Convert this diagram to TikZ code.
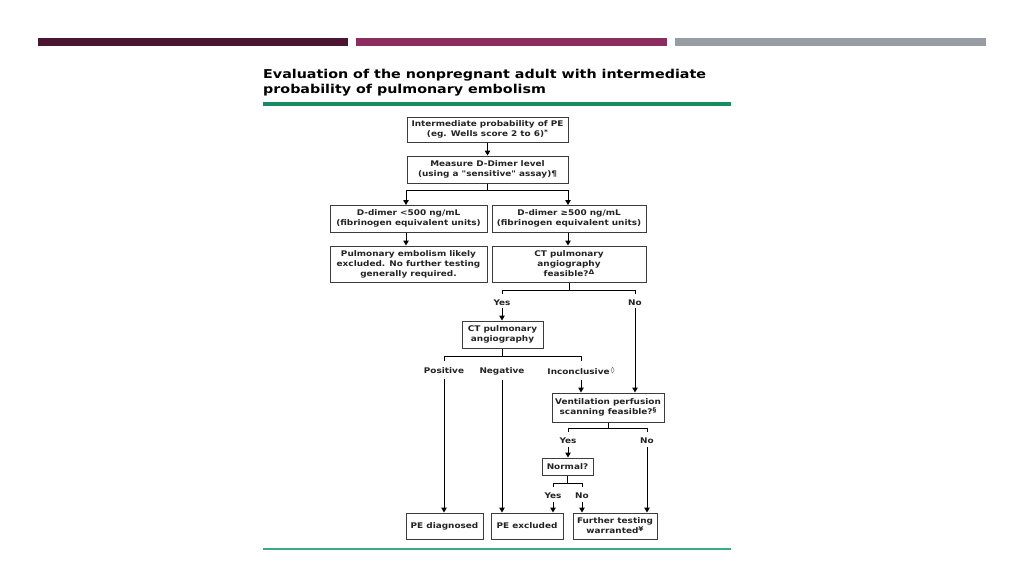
\documentclass[tikz,border=0pt]{standalone}
\usepackage{fontspec}
\setmainfont{DejaVu Sans}
\newfontfamily\titlefont[FakeStretch=1.17]{DejaVu Sans Bold}
\newfontfamily\boxfont[FakeStretch=1.14]{DejaVu Sans Bold}
\usetikzlibrary{arrows.meta,calc}
\definecolor{barA}{RGB}{75,22,50}
\definecolor{barB}{RGB}{140,45,95}
\definecolor{barC}{RGB}{152,157,163}
\definecolor{greenA}{RGB}{20,140,95}
\definecolor{greenB}{RGB}{60,170,130}
\definecolor{boxline}{RGB}{60,60,60}
\definecolor{txt}{RGB}{35,35,35}
\newcommand{\sups}[1]{\raisebox{0.5ex}{\fontsize{6.5}{6.5}\selectfont #1}}
\begin{document}
\begin{tikzpicture}[x=1pt,y=-1pt,
  every node/.style={text=txt},
  fbox/.style={draw=boxline,line width=1pt,rectangle,inner sep=0pt,align=center,
    font=\boxfont\fontsize{7.8}{10}\selectfont},
  lbl/.style={inner sep=0pt,font=\boxfont\fontsize{7.8}{10}\selectfont},
  conn/.style={draw=black,line width=1pt},
  arr/.style={conn,-{Triangle[length=5pt,width=5.5pt]}}]
\useasboundingbox (0,0) rectangle (1024,576);
\fill[white] (0,0) rectangle (1024,576);
% top bars
\fill[barA] (38,38) rectangle (348,46);
\fill[barB] (356,38) rectangle (667,46);
\fill[barC] (675,38) rectangle (986,46);
% title
\node[anchor=north west,inner sep=0pt,align=left,text=black,
  font=\titlefont\fontsize{12.2}{15.5}\selectfont] (title) at (263,69)
  {Evaluation of the nonpregnant adult with intermediate\\probability of pulmonary embolism};
\fill[greenA] (263,102) rectangle (731,106);
\fill[greenB] (263,548) rectangle (731,550);
% boxes
\node[fbox,minimum width=161pt,minimum height=25pt] (top) at (487.5,129.5)
  {Intermediate probability of PE\\(eg. Wells score 2 to 6)\sups{*}};
\node[fbox,minimum width=161pt,minimum height=27pt] (meas) at (487.5,169.5)
  {Measure D-Dimer level\\(using a "sensitive" assay)¶};
\node[fbox,minimum width=157pt,minimum height=27pt] (dlow) at (408.5,218.5)
  {D-dimer <500 ng/mL\\(fibrinogen equivalent units)};
\node[fbox,minimum width=154pt,minimum height=27pt] (dhigh) at (569,218.5)
  {D-dimer ≥500 ng/mL\\(fibrinogen equivalent units)};
\node[fbox,minimum width=157pt,minimum height=36pt] (excl) at (408.5,264)
  {Pulmonary embolism likely\\excluded. No further testing\\generally required.};
\node[fbox,minimum width=154pt,minimum height=36pt] (ctf) at (569,264)
  {CT pulmonary\\angiography\\feasible?\sups{Δ}};
\node[fbox,minimum width=81pt,minimum height=27pt] (cta) at (502.5,334.5)
  {CT pulmonary\\angiography};
\node[fbox,minimum width=112pt,minimum height=29pt] (vq) at (608,407.5)
  {Ventilation perfusion\\scanning feasible?\sups{§}};
\node[fbox,minimum width=51pt,minimum height=17pt] (norm) at (567.5,466.5)
  {Normal?};
\node[fbox,minimum width=77pt,minimum height=26pt] (ped) at (444.5,526)
  {PE diagnosed};
\node[fbox,minimum width=72pt,minimum height=26pt] (pex) at (527,526)
  {PE excluded};
\node[fbox,minimum width=84pt,minimum height=26pt] (fur) at (615,526)
  {Further testing\\warranted\sups{¥}};
% labels
\node[lbl] (y1) at (502,303) {Yes};
\node[lbl] (n1) at (635,303) {No};
\node[lbl] (pos) at (444,371) {Positive};
\node[lbl] (neg) at (502,371) {Negative};
\node[lbl,anchor=center] (inc) at (581,371) {Inconclusive\,\sups{◊}};
\node[lbl] (y2) at (568,441) {Yes};
\node[lbl] (n2) at (647,441) {No};
\node[lbl] (y3) at (553,496) {Yes};
\node[lbl] (n3) at (582,496) {No};
% coordinates for branch points
\coordinate (b0) at (487.5,190);
\coordinate (b1) at (569,290);
\coordinate (b2) at (502.5,356);
\coordinate (b3) at (608,428);
\coordinate (b4) at (567.5,483);
\coordinate (dl) at (406,205);
\coordinate (dh) at (568,205);
% connectors
\draw[arr] (top) -- (meas);
\draw[conn] (meas.south) -- (b0);
\draw[conn] (b0 -| dl) -- (b0 -| dh);
\draw[arr] (b0 -| dl) -- (dl);
\draw[arr] (b0 -| dh) -- (dh);
\draw[arr] (dlow.south -| dl) -- (excl.north -| dl);
\draw[arr] (dhigh.south -| dh) -- (ctf.north -| dh);
% CT feasible branch
\draw[conn] (ctf.south) -- (b1);
\draw[conn] ($(b1 -| y1)+(0,4)$) -- (b1 -| y1) -- (b1 -| n1) -- ++(0,4);
\draw[arr] ($(y1.south)+(0,2)$) -- (cta.north -| y1);
\draw[arr] ($(n1.south)+(0,2)$) -- (vq.north -| n1);
% CTA branch
\draw[conn] (cta.south) -- (b2);
\draw[conn] ($(b2 -| pos)+(0,5)$) -- (b2 -| pos) -- (b2 -| inc) -- ++(0,5);
\draw[arr] ($(pos.south)+(0,5)$) -- (ped.north -| pos);
\draw[arr] ($(neg.south)+(0,5)$) -- (pex.north -| neg);
\draw[arr] ($(inc.south)+(0,5)$) -- (vq.north -| inc);
% V/Q branch
\draw[conn] (vq.south) -- (b3);
\draw[conn] ($(b3 -| y2)+(0,4)$) -- (b3 -| y2) -- (b3 -| n2) -- ++(0,4);
\draw[arr] ($(y2.south)+(0,3)$) -- (norm.north -| y2);
\draw[arr] ($(n2.south)+(0,3)$) -- (fur.north -| n2);
% Normal branch
\draw[conn] (norm.south) -- (b4);
\draw[conn] ($(b4 -| y3)+(0,4)$) -- (b4 -| y3) -- (b4 -| n3) -- ++(0,4);
\draw[arr] ($(y3.south)+(0,3)$) -- (pex.north -| y3);
\draw[arr] ($(n3.south)+(0,3)$) -- (fur.north -| n3);
\end{tikzpicture}
\end{document}
